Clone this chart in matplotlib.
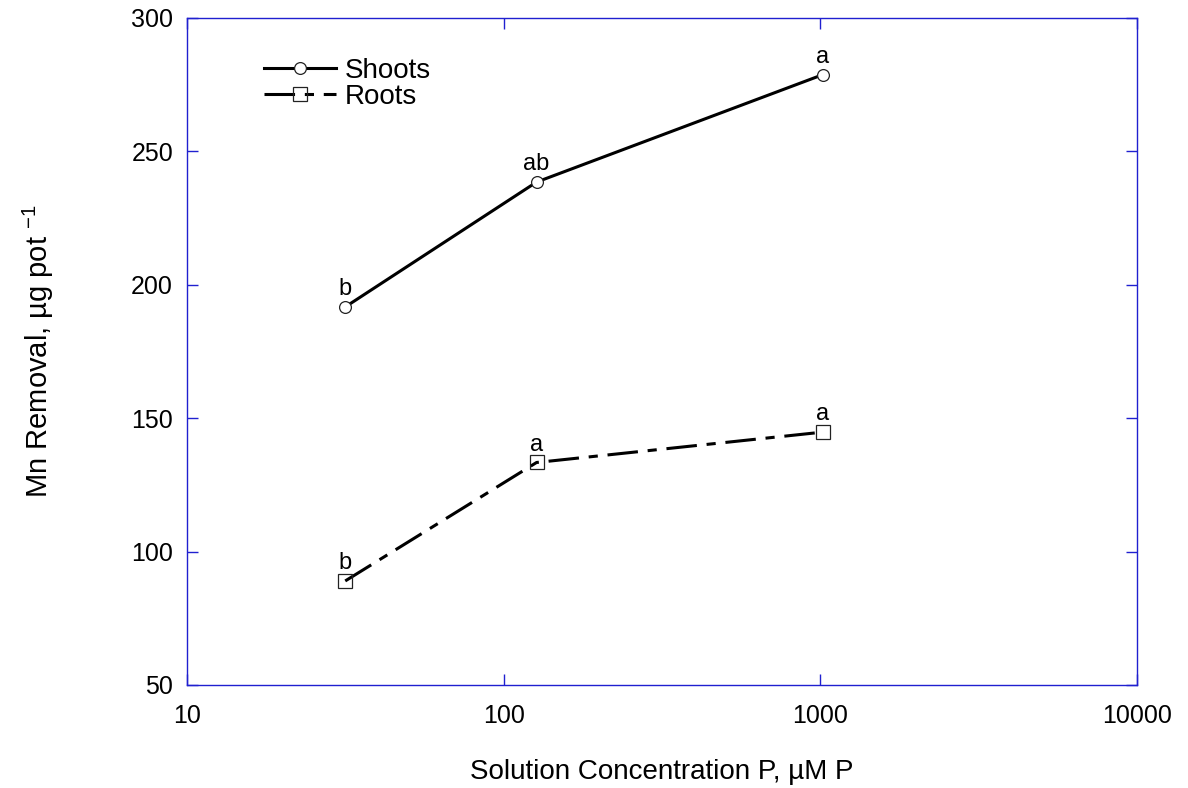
import matplotlib
matplotlib.use("Agg")
import matplotlib.pyplot as plt
from matplotlib.ticker import FixedLocator, NullLocator, FixedFormatter

plt.rcParams["font.family"] = ["Liberation Sans", "DejaVu Sans"]

# data
conc = [31.6, 127, 1020]
shoots = [191.7, 238.5, 278.8]
roots = [89.0, 133.4, 144.8]
shoot_letters = ["b", "ab", "a"]
root_letters = ["b", "a", "a"]
xticks = [10, 100, 1000, 10000]
yticks = [50, 100, 150, 200, 250, 300]

axis_blue = "#2020d0"

fig = plt.figure(figsize=(11.88, 7.88), dpi=100)
ax = fig.add_axes([187 / 1188, 1 - 685 / 788, 950 / 1188, 667 / 788])

ax.plot(conc, shoots, color="black", lw=2.2, marker="o", ms=8.5,
        mfc="white", mec="#222222", mew=0.9, label="Shoots")
ax.plot(conc, roots, color="black", lw=2.2, dashes=(10, 3.2, 3, 3.2), marker="s", ms=9.5,
        mfc="none", mec="#222222", mew=0.9, label="Roots")

for x, y, t in zip(conc, shoots, shoot_letters):
    ax.annotate(t, (x, y), xytext=(0, 5), textcoords="offset points",
                ha="center", va="bottom", fontsize=17)
for x, y, t in zip(conc, roots, root_letters):
    ax.annotate(t, (x, y), xytext=(0, 5), textcoords="offset points",
                ha="center", va="bottom", fontsize=17)

ax.set_xscale("log")
ax.set_xlim(10, 10000)
ax.set_ylim(50, 300)
ax.xaxis.set_major_locator(FixedLocator(xticks))
ax.xaxis.set_major_formatter(FixedFormatter([str(v) for v in xticks]))
ax.xaxis.set_minor_locator(NullLocator())
ax.set_yticks(yticks)

for s in ax.spines.values():
    s.set_color(axis_blue)
    s.set_linewidth(1.0)
ax.tick_params(which="both", direction="in", top=True, right=True,
               length=8, width=1.0, color=axis_blue, labelsize=18)
ax.tick_params(axis="y", pad=10)
ax.tick_params(axis="x", pad=14)

ax.set_xlabel("Solution Concentration P, µM P", fontsize=20, labelpad=22)
ax.set_ylabel(r"Mn Removal, µg pot $^{\mathregular{-1}}$", fontsize=21, labelpad=54)

ax.legend(loc="upper left", bbox_to_anchor=(0.055, 0.978), frameon=False,
          fontsize=20, handlelength=2.6, handletextpad=0.3, labelspacing=0.0)

fig.savefig("out.png", dpi=100)
